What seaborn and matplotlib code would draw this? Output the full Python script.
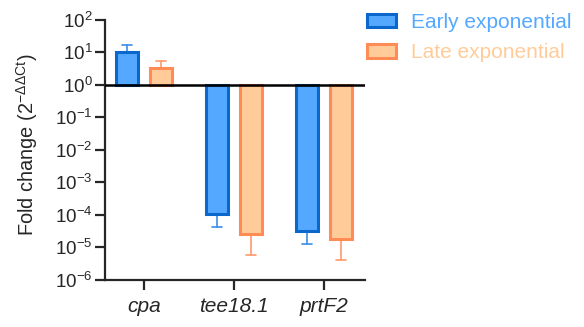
import numpy as np
import matplotlib
matplotlib.use("Agg")
import matplotlib.pyplot as plt
import seaborn as sns

sns.set_style("ticks")
plt.rcParams["font.family"] = ["Liberation Sans", "DejaVu Sans"]

genes = ["cpa", "tee18.1", "prtF2"]
groups = ["Early exponential", "Late exponential"]
early_fold = [10.0, 1.1e-4, 3.3e-5]
early_err_end = [16.5, 4.2e-5, 1.3e-5]
late_fold = [3.4, 2.6e-5, 1.8e-5]
late_err_end = [5.3, 5.8e-6, 4.0e-6]

face_colors = ["#55A8FF", "#FFCC99"]
edge_colors = ["#0A68CC", "#FF8C55"]
err_colors = ["#3A8EE6", "#FF9A6A"]
text_colors = ["#55A8FF", "#FFCC99"]

fig = plt.figure(figsize=(5.84, 3.27), dpi=100)
ax = fig.add_axes([0.18, 0.144, 0.445, 0.795])
ax.set_yscale("log")

x = np.arange(len(genes))
width = 0.24
offsets = [-0.19, 0.19]
series = [(early_fold, early_err_end), (late_fold, late_err_end)]

handles = []
for i, (vals, ends) in enumerate(series):
    vals = np.array(vals)
    ends = np.array(ends)
    pos = x + offsets[i]
    b = ax.bar(pos, vals - 1, bottom=1, width=width,
               color=face_colors[i], edgecolor=edge_colors[i],
               linewidth=2.2, label=groups[i], zorder=2)
    handles.append(b)
    # one-sided error bars pointing away from the baseline
    for p, v, e in zip(pos, vals, ends):
        ax.plot([p, p], [v, e], color=err_colors[i], lw=1.2, zorder=1)
        ax.plot([p - 0.055, p + 0.055], [e, e], color=err_colors[i], lw=1.2, zorder=1)

ax.axhline(1, color="black", lw=1.8, zorder=3)

ax.set_ylim(1e-6, 1e2)
ax.set_xlim(-0.433, 2.456)
ax.set_yticks([10.0 ** k for k in range(-6, 3)])
ax.yaxis.set_minor_locator(matplotlib.ticker.NullLocator())
ax.set_xticks(x)
ax.set_xticklabels(genes, fontstyle="italic", fontsize=15)
ax.tick_params(axis="y", labelsize=13.5, width=1.6, length=7, pad=2)
ax.tick_params(axis="x", width=1.6, length=7, pad=5)
ax.set_ylabel(r"Fold change (2$^{\mathregular{-ΔΔCt}}$)", fontsize=14.4)
ax.yaxis.set_label_coords(-0.252, 0.52)

sns.despine(ax=ax)
for s in ["left", "bottom"]:
    ax.spines[s].set_linewidth(1.6)

leg = ax.legend(handles=handles, loc="upper left", bbox_to_anchor=(0.935, 1.10),
                frameon=False, fontsize=15, handlelength=1.4, handleheight=0.63,
                labelspacing=0.55, handletextpad=0.72)
for t, c in zip(leg.get_texts(), text_colors):
    t.set_color(c)

fig.savefig("out.png", dpi=100)
plt.close(fig)
